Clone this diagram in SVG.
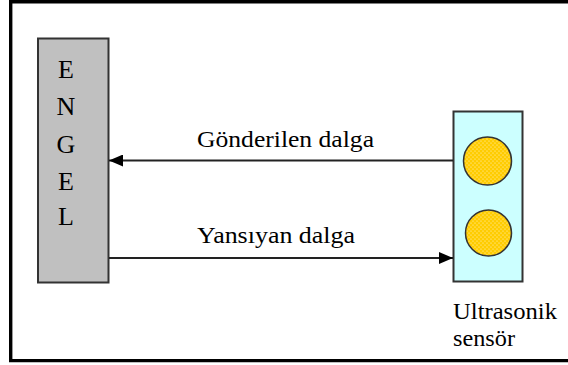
<svg xmlns="http://www.w3.org/2000/svg" width="568" height="365" viewBox="0 0 568 365">
  <style>
    .frame { fill: none; stroke: #000; stroke-width: 3.4; }
    .wall { fill: #c0c0c0; stroke: #333; stroke-width: 2; }
    .sensor { fill: #ccffff; stroke: #333; stroke-width: 2; }
    .emitter { fill: url(#dots); stroke: #333; stroke-width: 1.5; }
    .wave { fill: none; stroke: #222; stroke-width: 2; }
    .txt { font-family: "Liberation Serif", "Times New Roman", serif; fill: #000; }
    .lbl { font-size: 23px; }
    .big { font-size: 26px; text-anchor: middle; }
  </style>
  <defs>
    <pattern id="dots" width="4" height="4" patternUnits="userSpaceOnUse">
      <rect width="4" height="4" fill="#ffcc00"/>
      <circle cx="1" cy="1" r="0.6" fill="#fff7d0"/>
      <circle cx="3" cy="3" r="0.6" fill="#fff7d0"/>
    </pattern>
    <marker id="arrow" viewBox="0 0 14 12" refX="14" refY="6" markerWidth="14" markerHeight="12" markerUnits="userSpaceOnUse" orient="auto">
      <path d="M0,0 L14,6 L0,12 Z" fill="#000"/>
    </marker>
  </defs>

  <!-- outer frame (open on the right) -->
  <path class="frame" d="M568,1.7 H10.7 V360.6 H568"/>

  <g id="engel">
    <rect class="wall" x="38" y="38.5" width="70.5" height="244"/>
    <text class="txt big" x="66" y="78">E</text>
    <text class="txt big" x="66" y="115">N</text>
    <text class="txt big" x="66" y="153">G</text>
    <text class="txt big" x="66" y="190">E</text>
    <text class="txt big" x="66" y="225">L</text>
  </g>

  <g id="sensor">
    <rect class="sensor" x="453.5" y="111.5" width="69" height="170"/>
    <circle class="emitter" cx="487.5" cy="161" r="24"/>
    <circle class="emitter" cx="488.5" cy="233" r="23"/>
    <text class="txt lbl" x="453" y="319" textLength="104" lengthAdjust="spacingAndGlyphs">Ultrasonik</text>
    <text class="txt lbl" x="453" y="346" textLength="62" lengthAdjust="spacingAndGlyphs">sensör</text>
  </g>

  <g id="connectors">
    <line class="wave" x1="453" y1="160.5" x2="109" y2="160.5" marker-end="url(#arrow)"/>
    <line class="wave" x1="109" y1="258" x2="453" y2="258" marker-end="url(#arrow)"/>
  </g>

  <g id="labels">
    <text class="txt lbl" x="197" y="147" textLength="177" lengthAdjust="spacingAndGlyphs">Gönderilen dalga</text>
    <text class="txt lbl" x="197" y="243" textLength="158" lengthAdjust="spacingAndGlyphs">Yansıyan dalga</text>
  </g>
</svg>
